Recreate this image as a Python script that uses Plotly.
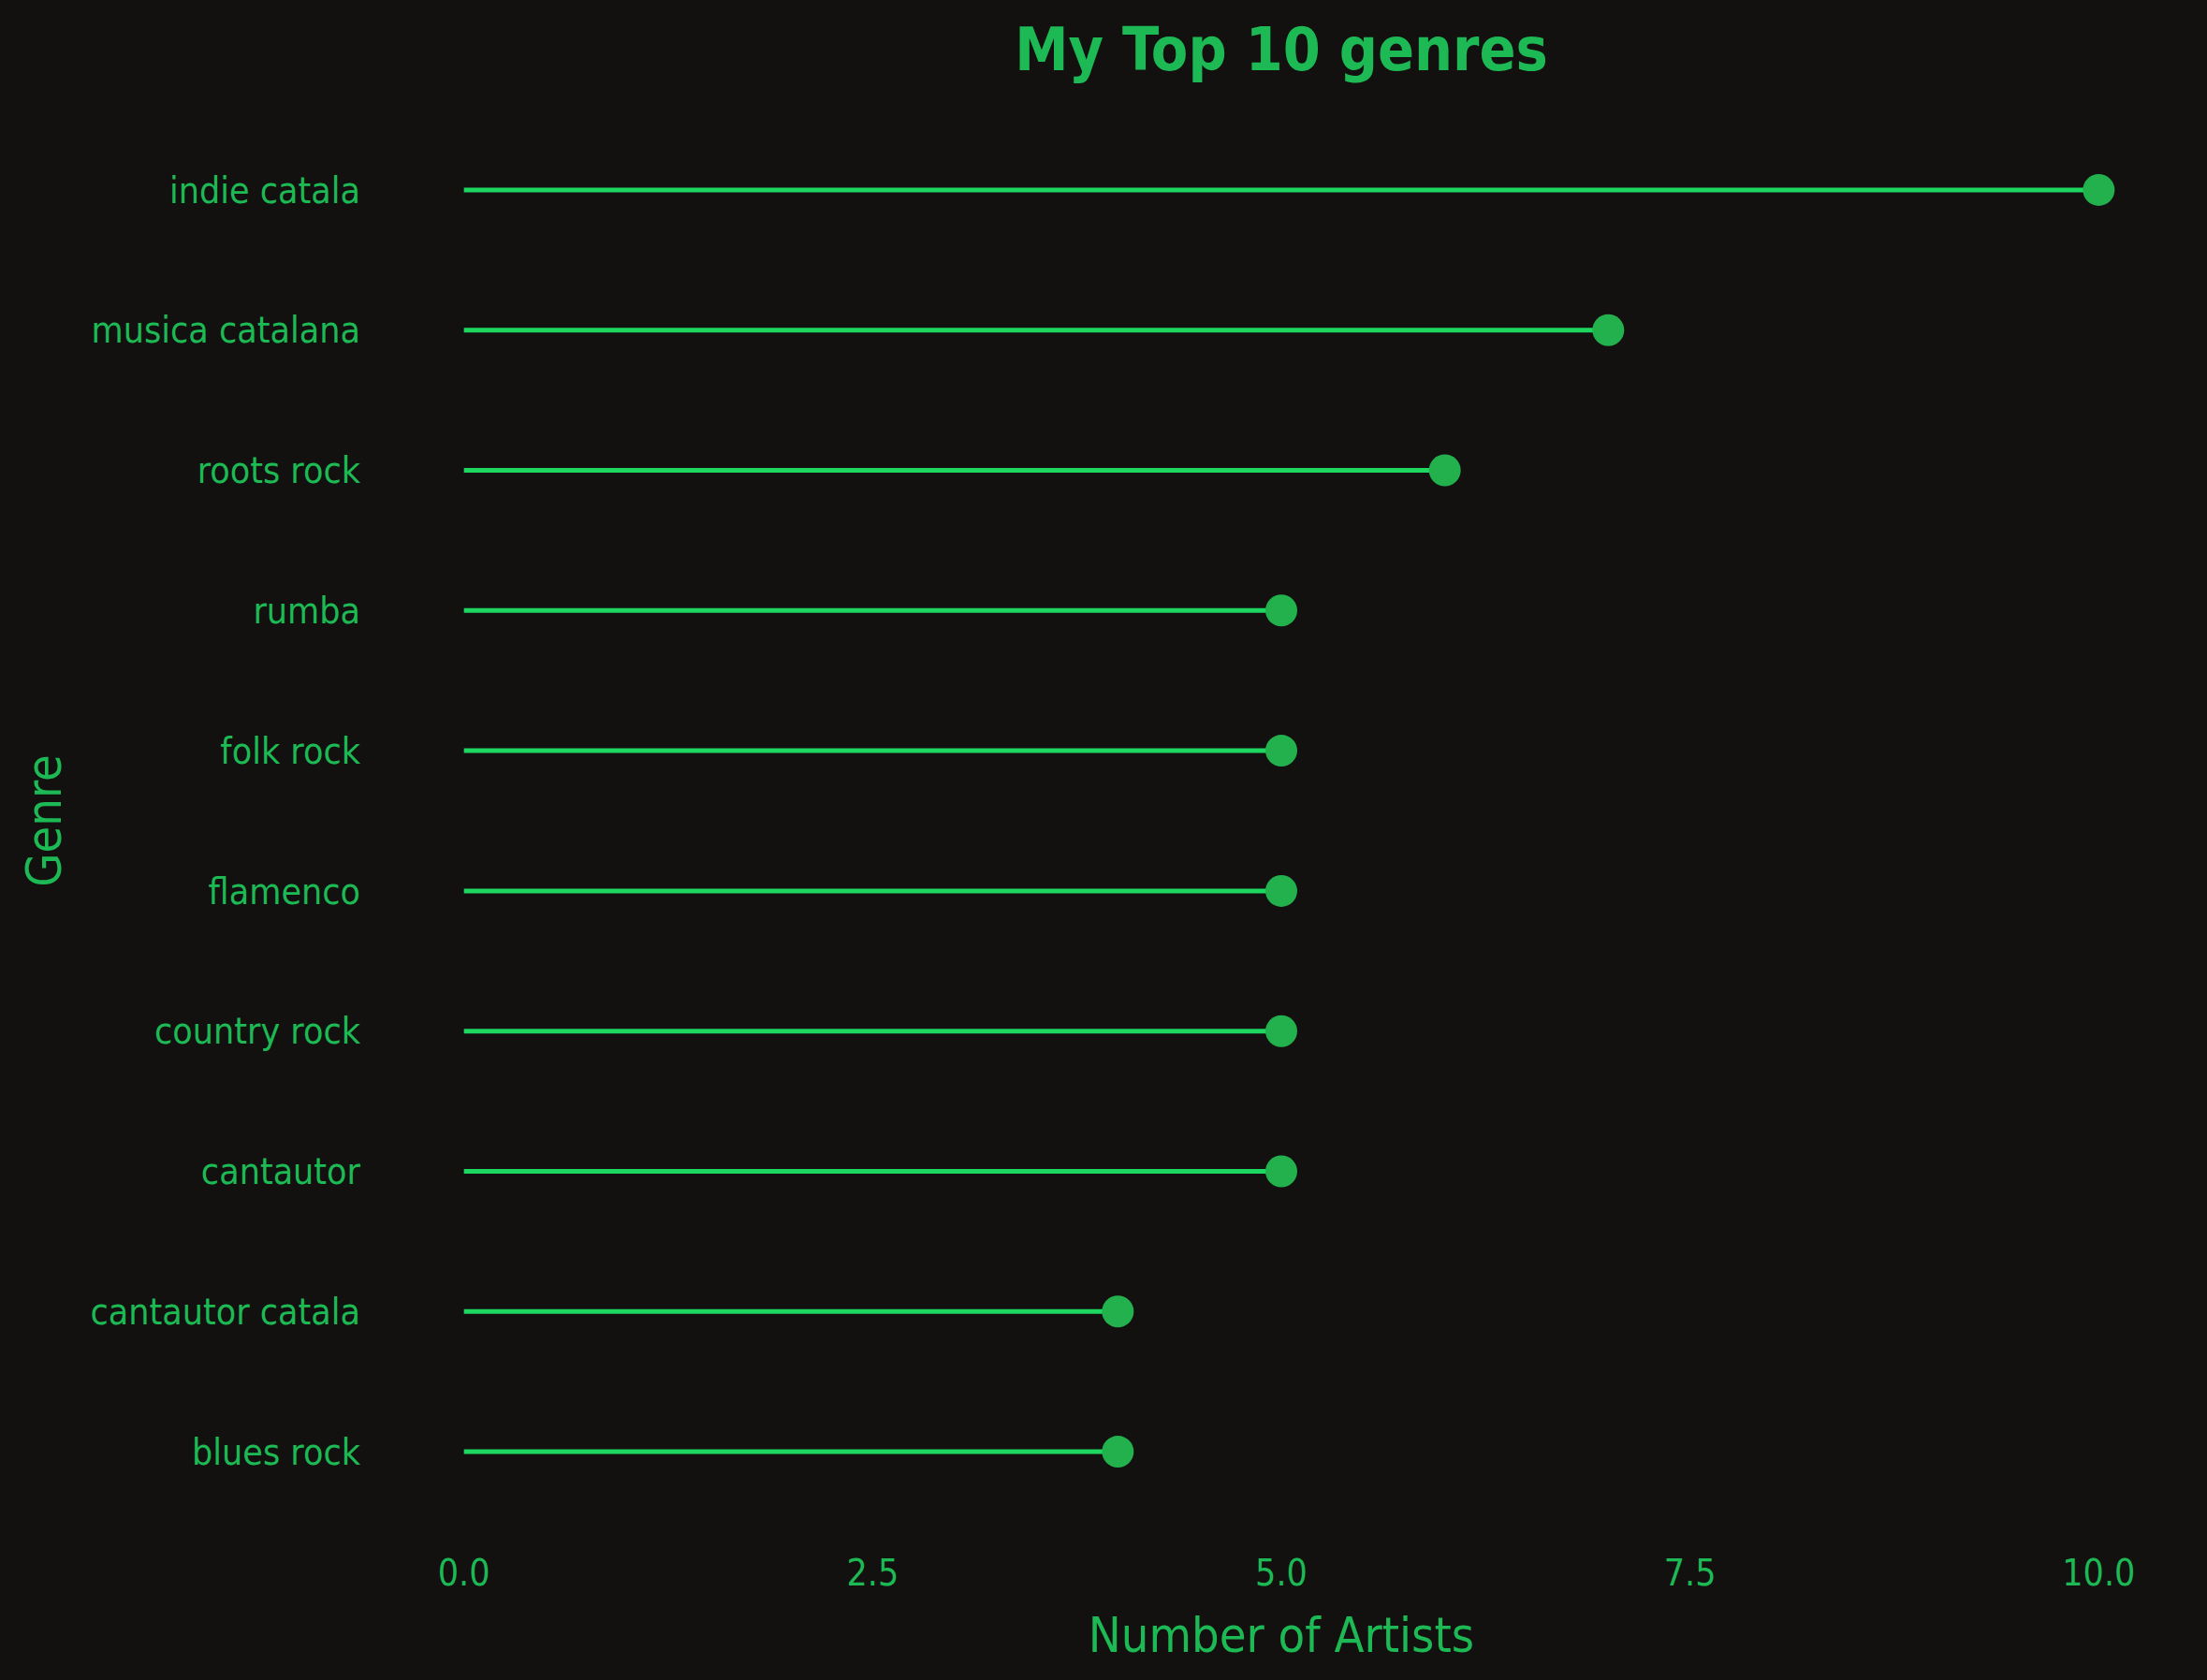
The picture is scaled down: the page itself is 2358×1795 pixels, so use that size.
import plotly.graph_objects as go

genres = ["indie catala", "musica catalana", "roots rock", "rumba", "folk rock",
          "flamenco", "country rock", "cantautor", "cantautor catala", "blues rock"]
artists = [10, 7, 6, 5, 5, 5, 5, 5, 4, 4]
x_ticks = [0, 2.5, 5, 7.5, 10]
x_tick_labels = ["0.0", "2.5", "5.0", "7.5", "10.0"]

GREEN_TEXT = "#1db954"
GREEN_LINE = "#1ed760"
GREEN_MARK = "#22b14c"
BG = "#121110"
FONT = "DejaVu Sans Condensed, DejaVu Sans, sans-serif"

line_x, line_y = [], []
for g, v in zip(genres, artists):
    line_x += [0, v, None]
    line_y += [g, g, None]

fig = go.Figure()
fig.add_trace(go.Scatter(x=line_x, y=line_y, mode="lines",
                         line=dict(color=GREEN_LINE, width=5), hoverinfo="skip",
                         showlegend=False))
fig.add_trace(go.Scatter(x=artists, y=genres, mode="markers",
                         marker=dict(color=GREEN_MARK, size=34), showlegend=False))

fig.update_layout(
    width=2358, height=1795,
    paper_bgcolor=BG, plot_bgcolor=BG,
    margin=dict(l=452, r=72, t=128, b=169),
    font=dict(family=FONT, color=GREEN_TEXT, size=39),
    title=dict(text="<b>My Top 10 genres</b>", x=0.5, xref="paper", xanchor="center",
               y=1 - 53 / 1795, yanchor="middle",
               font=dict(family=FONT, size=64, color=GREEN_TEXT)),
    xaxis=dict(range=[-0.25, 10.25], tickvals=x_ticks, ticktext=x_tick_labels,
               showgrid=False, zeroline=False, showline=False,
               ticklabelstandoff=28, tickfont=dict(size=39),
               title=dict(text="Number of Artists", font=dict(size=52), standoff=26)),
    yaxis=dict(categoryorder="array", categoryarray=genres,
               range=[len(genres) - 0.5, -0.5],
               showgrid=False, zeroline=False, showline=False,
               ticklabelstandoff=66, tickfont=dict(size=39),
               title=dict(text="Genre", font=dict(size=52), standoff=14)),
)

fig.write_html("out.html")
